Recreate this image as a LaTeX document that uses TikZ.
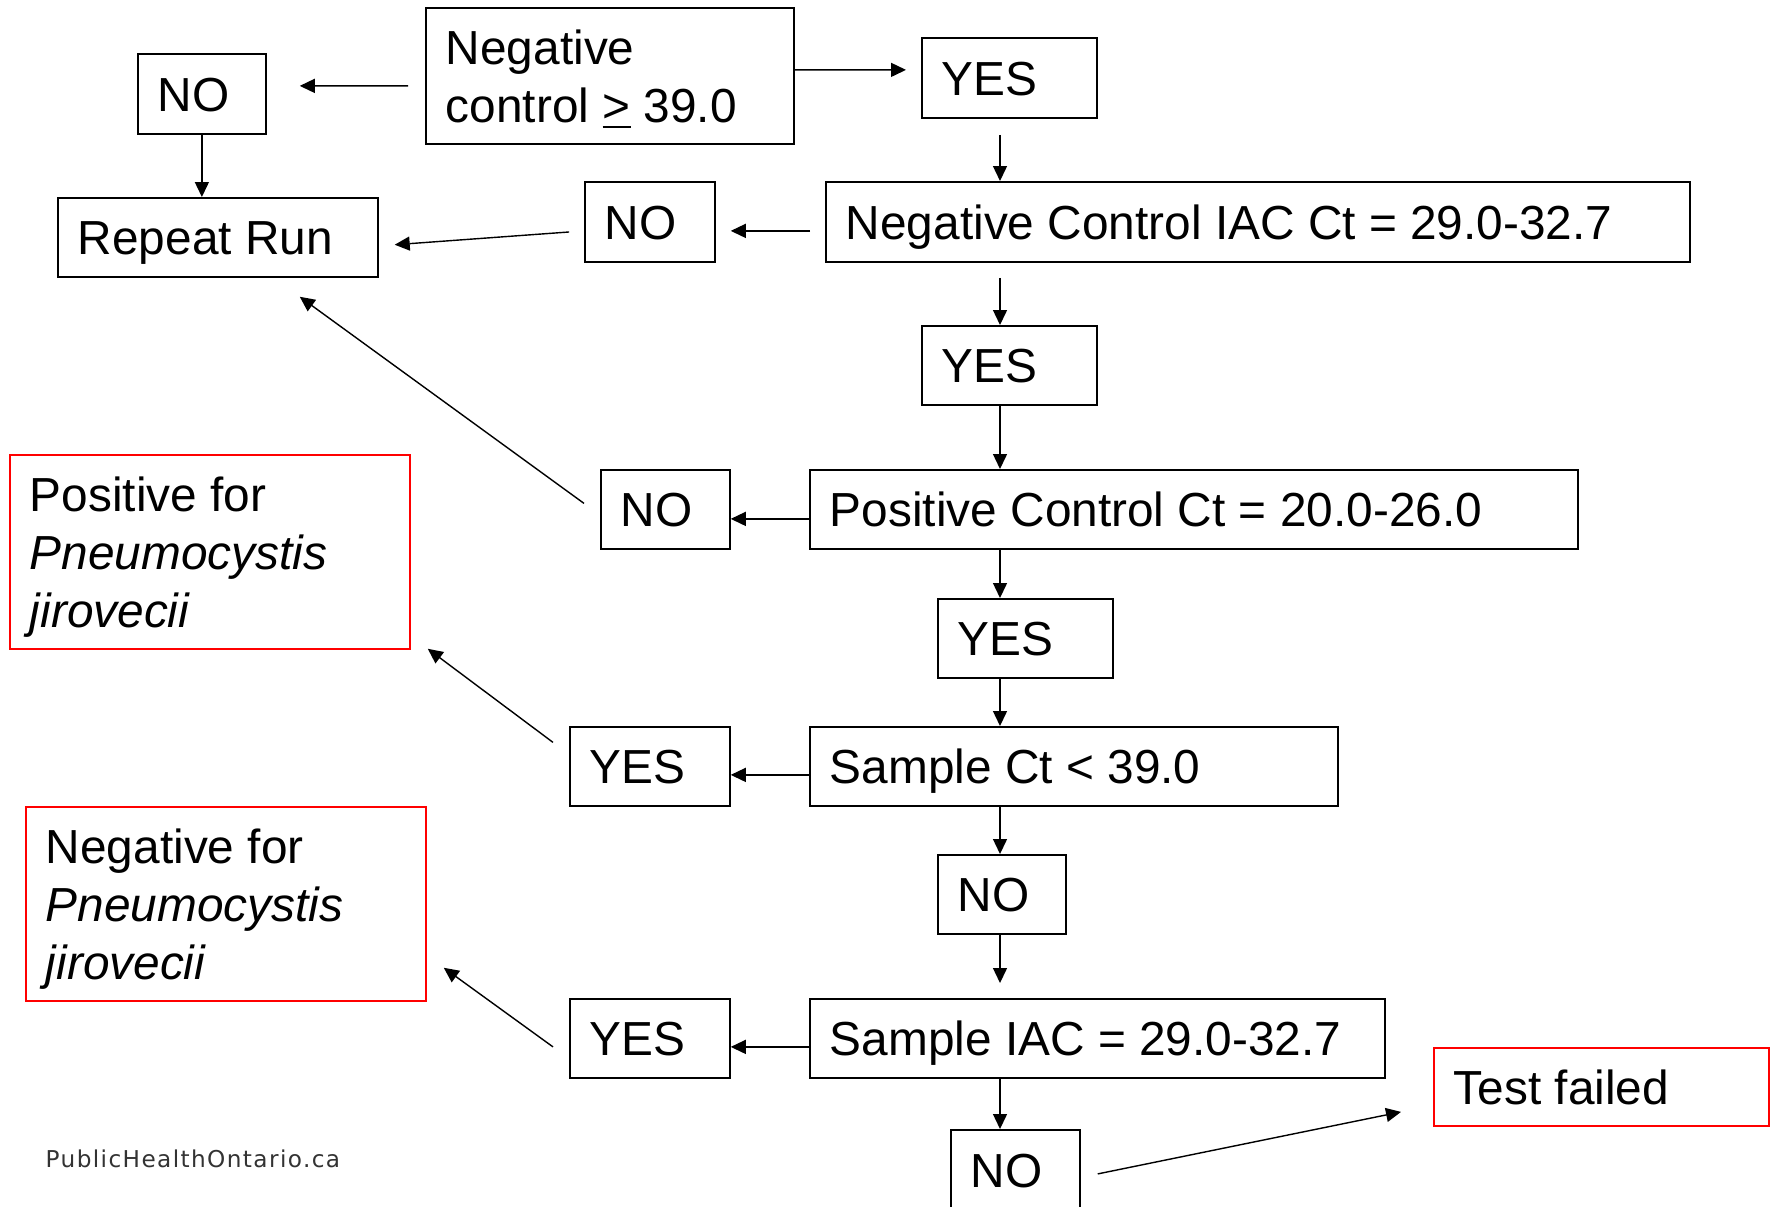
\documentclass[tikz,border=0pt]{standalone}
\usepackage{fontspec}
\setmainfont{Liberation Sans}
\newfontfamily\phofont[LetterSpace=6]{DejaVu Sans}
\usetikzlibrary{arrows.meta}
\definecolor{alertred}{HTML}{FF0000}
\definecolor{footgray}{HTML}{333333}
\newcommand\tightspace{\spaceskip=0.278em plus 0.1em\relax}

\begin{document}
\begin{tikzpicture}[
  box/.style={draw,line width=0.5pt,anchor=north west,inner xsep=2mm,inner ysep=0pt,
    text height=3.44mm,text depth=0pt,font=\fontsize{13.6pt}{16.5pt}\selectfont,
    execute at begin node=\tightspace},
  redbox/.style={box,draw=alertred},
  arr/.style={-{Triangle[length=1.5mm,width=1.4mm]},line width=0.4pt}]
  \useasboundingbox (0,0) rectangle (17.76,-12.06);
  \coordinate (spine) at (10,0);
  % decision chain
  \node[box,minimum width=3.68cm,text width=3.28cm,minimum height=1.36cm,text depth=5.8mm] (negctl) at (4.25,-0.07) {Negative\\control \underline{>} 39.0};
  \node[box,minimum width=1.28cm,text width=0.88cm,minimum height=0.8cm] (no1) at (1.37,-0.53) {NO};
  \node[box,minimum width=1.75cm,text width=1.35cm,minimum height=0.8cm] (yes1) at (9.21,-0.37) {YES};
  \node[box,minimum width=3.2cm,text width=2.8cm,minimum height=0.79cm] (rerun) at (0.57,-1.97) {Repeat Run};
  \node[box,minimum width=1.3cm,text width=0.9cm,minimum height=0.8cm] (no2) at (5.84,-1.81) {NO};
  \node[box,minimum width=8.64cm,text width=8.24cm,minimum height=0.8cm] (negiac) at (8.25,-1.81) {Negative Control IAC Ct = 29.0-32.7};
  \node[box,minimum width=1.75cm,text width=1.35cm,minimum height=0.79cm] (yes2) at (9.21,-3.25) {YES};
  \node[box,minimum width=1.29cm,text width=0.89cm,minimum height=0.79cm] (no3) at (6.00,-4.69) {NO};
  \node[box,minimum width=7.68cm,text width=7.28cm,minimum height=0.79cm] (posctl) at (8.09,-4.69) {Positive Control Ct = 20.0-26.0};
  \node[box,minimum width=1.75cm,text width=1.35cm,minimum height=0.79cm] (yes3) at (9.37,-5.98) {YES};
  \node[box,minimum width=1.6cm,text width=1.2cm,minimum height=0.79cm] (yes4) at (5.69,-7.26) {YES};
  \node[box,minimum width=5.28cm,text width=4.88cm,minimum height=0.79cm] (samplect) at (8.09,-7.26) {Sample Ct < 39.0};
  \node[box,minimum width=1.28cm,text width=0.88cm,minimum height=0.79cm] (no4) at (9.37,-8.54) {NO};
  \node[box,minimum width=1.6cm,text width=1.2cm,minimum height=0.79cm] (yes5) at (5.69,-9.98) {YES};
  \node[box,minimum width=5.75cm,text width=5.35cm,minimum height=0.79cm] (sampleiac) at (8.09,-9.98) {Sample IAC = 29.0-32.7};
  \node[box,minimum width=1.29cm,text width=0.89cm,minimum height=0.8cm] (no5) at (9.50,-11.29) {NO};
  % outcomes
  \node[redbox,minimum width=4cm,text width=3.6cm,minimum height=1.94cm,text depth=11.6mm] (pos) at (0.09,-4.54) {Positive for\\\textit{Pneumocystis}\\\textit{jirovecii}};
  \node[redbox,minimum width=4cm,text width=3.6cm,minimum height=1.94cm,text depth=11.6mm] (neg) at (0.25,-8.06) {Negative for\\\textit{Pneumocystis}\\\textit{jirovecii}};
  \node[redbox,minimum width=3.35cm,text width=2.95cm,minimum height=0.78cm] (failed) at (14.33,-10.47) {Test failed};
  \node[anchor=west,inner sep=0pt,text=footgray,font=\phofont\fontsize{6.6pt}{8pt}\selectfont] (site) at (0.45,-11.59) {PublicHealthOntario.ca};
  % arrows
  \draw[arr,shorten <=1.7mm,shorten >=3.3mm] ([yshift=-1mm]negctl.west) -- ([yshift=0.8mm]no1.east);
  \draw[arr,shorten >=1.5mm] ([yshift=0.6mm]negctl.east) -- ([yshift=0.8mm]yes1.west);
  \draw[arr] (no1.south) -- (no1.south |- rerun.north);
  \draw[arr,shorten <=1.6mm] (spine |- yes1.south) -- (spine |- negiac.north);
  \draw[arr,shorten <=1.5mm,shorten >=1.5mm] ([yshift=-0.9mm]negiac.west) -- ([yshift=-0.9mm]no2.east);
  \draw[arr,shorten <=1.5mm,shorten >=1.6mm] ([yshift=-0.9mm]no2.west) -- ([yshift=-0.85mm]rerun.east);
  \draw[arr,shorten <=1.5mm] (spine |- negiac.south) -- (spine |- yes2.north);
  \draw[arr] (spine |- yes2.south) -- (spine |- posctl.north);
  \draw[arr] ([xshift=-1.6mm,yshift=0.6mm]no3.west) -- ([xshift=-7.9mm,yshift=-1.9mm]rerun.south east);
  \draw[arr] ([yshift=-0.95mm]posctl.west) -- ([yshift=-0.95mm]no3.east);
  \draw[arr] (spine |- posctl.south) -- (spine |- yes3.north);
  \draw[arr] (spine |- yes3.south) -- (spine |- samplect.north);
  \draw[arr] ([yshift=-0.85mm]samplect.west) -- ([yshift=-0.85mm]yes4.east);
  \draw[arr] ([xshift=-1.6mm,yshift=2.4mm]yes4.west) -- ([xshift=1.7mm,yshift=0.1mm]pos.south east);
  \draw[arr] (spine |- samplect.south) -- (spine |- no4.north);
  \draw[arr,shorten >=1.5mm] (spine |- no4.south) -- (spine |- sampleiac.north);
  \draw[arr] ([yshift=-0.85mm]sampleiac.west) -- ([yshift=-0.85mm]yes5.east);
  \draw[arr] ([xshift=-1.6mm,yshift=-0.85mm]yes5.west) -- ([xshift=1.7mm,yshift=3.4mm]neg.south east);
  \draw[arr] (spine |- sampleiac.south) -- (spine |- no5.north);
  \draw[arr] ([xshift=1.7mm,yshift=-0.4mm]no5.east) -- ([xshift=-3.2mm,yshift=-2.5mm]failed.west);
\end{tikzpicture}
\end{document}
